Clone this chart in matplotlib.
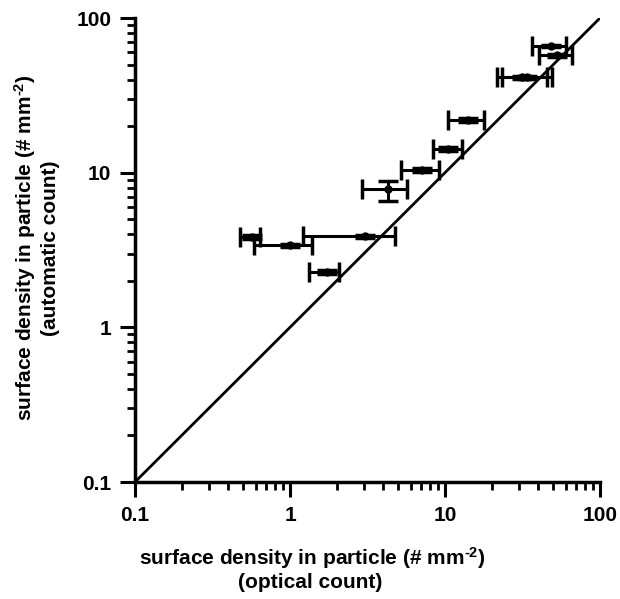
import numpy as np
import matplotlib
matplotlib.use("Agg")
import matplotlib.pyplot as plt

plt.rcParams['font.family'] = ['Liberation Sans', 'DejaVu Sans']
plt.rcParams['font.weight'] = 'bold'
plt.rcParams['mathtext.fontset'] = 'custom'
plt.rcParams['mathtext.bf'] = 'Liberation Sans:bold'
plt.rcParams['mathtext.rm'] = 'Liberation Sans:bold'
plt.rcParams['mathtext.default'] = 'bf'

# optical count (x) with error range
x_val = [0.57, 1.0, 3.05, 1.73, 4.29, 7.1, 10.5, 14.1, 48.3, 52.8, 31.4, 33.8]
x_low = [0.475, 0.585, 1.21, 1.33, 2.91, 5.2, 8.37, 10.5, 36.4, 40.4, 21.6, 23.3]
x_high = [0.64, 1.39, 4.76, 2.07, 5.69, 9.15, 12.9, 17.9, 60.4, 65.9, 45.5, 49.0]

# automatic count (y) with error range
y_val = [3.83, 3.40, 3.89, 2.28, 7.83, 10.4, 14.2, 21.9, 65.8, 57.5, 41.5, 41.5]
y_low = [3.72, 3.33, 3.80, 2.21, 6.55, 10.15, 13.8, 21.4, 64.5, 56.3, 40.6, 40.6]
y_high = [3.95, 3.47, 3.98, 2.35, 8.83, 10.65, 14.6, 22.4, 67.1, 58.7, 42.4, 42.4]

x_val = np.array(x_val)
y_val = np.array(y_val)
xerr = [x_val - np.array(x_low), np.array(x_high) - x_val]
yerr = [y_val - np.array(y_low), np.array(y_high) - y_val]

fig = plt.figure(figsize=(6.2, 5.99), dpi=100)
ax = fig.add_axes([135/620, 1-482/599, 465/620, 464/599])

ax.plot([0.1, 100], [0.1, 100], color='black', lw=2)
ax.errorbar(x_val, y_val, xerr=xerr, yerr=yerr, fmt='o', color='black',
            ms=5, elinewidth=2.2, capsize=7, capthick=2.5)

ax.set_xscale('log')
ax.set_yscale('log')
ax.set_xlim(0.1, 100)
ax.set_ylim(0.1, 100)
ax.set_xticks([0.1, 1, 10, 100])
ax.set_xticklabels(['0.1', '1', '10', '100'])
ax.set_yticks([0.1, 1, 10, 100])
ax.set_yticklabels(['0.1', '1', '10', '100'])

for side in ['top', 'right']:
    ax.spines[side].set_visible(False)
for side in ['left', 'bottom']:
    ax.spines[side].set_linewidth(2.5)

ax.tick_params(which='major', length=11, width=2.2, labelsize=15, pad=6)
ax.tick_params(which='minor', length=6, width=2.0)
ax.tick_params(axis='both', which='minor', labelleft=False, labelbottom=False)

label1 = r'surface density in particle (# mm$^{\text{-2}}$)'
fig.text(312/620, 1-558/599, label1,
         ha='center', va='center', fontsize=15, fontweight='bold')
fig.text(310/620, 1-582/599, '(optical count)',
         ha='center', va='center', fontsize=15, fontweight='bold')
fig.text(25/620, 1-248/599, label1,
         ha='center', va='center', rotation=90, fontsize=15, fontweight='bold')
fig.text(51/620, 1-248/599, '(automatic count)',
         ha='center', va='center', rotation=90, fontsize=15, fontweight='bold')

fig.savefig('out.png', dpi=100)
